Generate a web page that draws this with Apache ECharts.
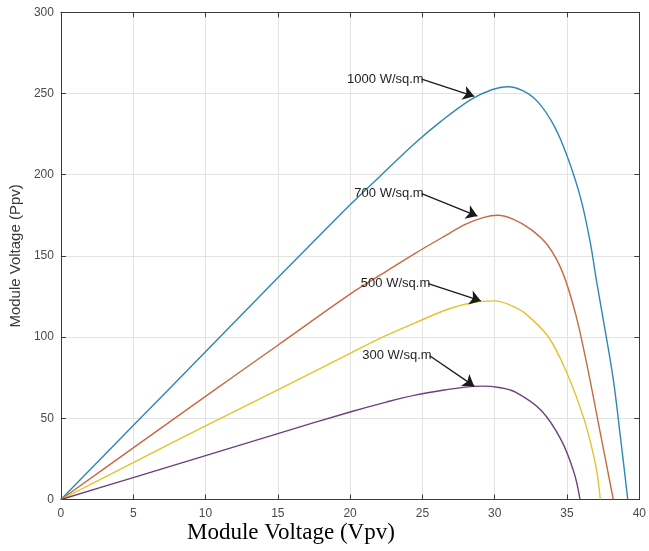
<!DOCTYPE html>
<html>
<head>
<meta charset="utf-8">
<script src="https://cdn.jsdelivr.net/npm/echarts@6/dist/echarts.min.js"></script>
<style>html,body{margin:0;padding:0;background:#fff}#c{width:649px;height:551px}</style>
</head>
<body>
<div id="c"></div>
<script>
// Data: [voltage (V), power (W)]
const curve1000 = [[0,0],[5,45.5],[10,91],[15,136.5],[20,181.5],[22,198.5],[24.5,219.5],[26.3,233],[28.4,246.5],[29.8,252.3],[30.9,254.2],[32,251.5],[33,244.7],[34.1,230.2],[35,211.6],[35.95,185.3],[36.6,158.6],[37.05,134],[37.6,106],[38.2,74],[38.7,38],[39.2,0]];
const curve700 = [[0,0],[5,31.8],[10,63.5],[15,95],[20,126.5],[22.5,140.5],[24.5,151.6],[26.5,162],[28,169.5],[29.2,173.6],[30.2,175],[31.3,172.5],[32.5,166.3],[33.7,156.1],[34.7,139.7],[35.6,114],[36.4,82],[37.3,41],[38.2,0]];
const curve500 = [[0,0],[5,22.7],[10,45.3],[15,67.5],[20,90],[22.5,101],[24.5,108.8],[26.8,117.3],[28.5,121.3],[30,122.3],[31,120],[32.1,114.6],[33.7,100.2],[35,77.7],[36.2,48.9],[37,20.2],[37.3,0]];
const curve300 = [[0,0],[5,13.5],[10,27],[15,40.6],[20,53.9],[22.5,60],[24.5,64.3],[26.8,67.8],[28,69.2],[29.1,69.8],[30.3,69],[31.4,66.3],[33.2,55],[34.6,36.6],[35.5,16.1],[35.9,0]];

const labels = ['1000 W/sq.m','700 W/sq.m','500 W/sq.m','300 W/sq.m'];
// annotation arrows in data coordinates: [start, tip]
const arrowStarts = [[24.95,258.8],[24.95,188.4],[25.4,133],[25.5,88.5]];
const arrowTips = [[28.58,248.3],[28.8,174.5],[29.04,122.3],[28.58,69.8]];

const xMin = 0, xMax = 40, xStep = 5;
const yMin = 0, yMax = 300, yStep = 50;

const colors = ['#2e88b3','#c8693f','#e3c32c','#6c3f7f'];
const curves = [curve1000, curve700, curve500, curve300];

const chart = echarts.init(document.getElementById('c'), null, {renderer:'canvas'});

const tickFont = {color:'#4a4a4a', fontSize:12, fontFamily:'Liberation Sans, Arial, sans-serif'};
const axisLineStyle = {color:'#3a3a3a', width:1};

const series = curves.map((d,i)=>({
  type:'line',
  data:d,
  smooth:0.35,
  showSymbol:false,
  lineStyle:{color:colors[i], width:1.4},
  itemStyle:{color:colors[i]},
  animation:false,
  silent:true,
  markLine:{
    silent:true,
    animation:false,
    symbol:['none','arrow'],
    symbolSize:11,
    lineStyle:{color:'#1a1a1a', width:1.3, type:'solid'},
    itemStyle:{color:'#1a1a1a'},
    label:{show:false},
    emphasis:{disabled:true},
    data:[[
      {coord:arrowStarts[i], symbol:'none'},
      {coord:arrowTips[i], symbol:'arrow', symbolSize:11, itemStyle:{color:'#1a1a1a'}}
    ]]
  },
  markPoint:{
    silent:true,
    animation:false,
    symbol:'circle',
    symbolSize:0,
    label:{show:true, position:'left', distance:-2, formatter:labels[i], color:'#1f1f1f', fontSize:13, fontFamily:'Liberation Sans, Arial, sans-serif'},
    data:[{coord:arrowStarts[i]}]
  }
}));

chart.setOption({
  backgroundColor:'#fff',
  animation:false,
  title:{
    text:'Module Voltage (Vpv)',
    left:187, top:521,
    padding:0,
    textStyle:{fontFamily:'Liberation Serif, Times New Roman, serif', fontSize:23, fontWeight:'normal', color:'#000'}
  },
  grid:{left:60.7, right:3, top:12.3, bottom:51.5, containLabel:false},
  xAxis:[{
    type:'value', min:xMin, max:xMax, interval:xStep, position:'bottom',
    axisLine:{show:true, onZero:false, lineStyle:axisLineStyle},
    axisTick:{show:true, inside:true, length:5, lineStyle:axisLineStyle},
    axisLabel:Object.assign({margin:8, showMaxLabel:true}, tickFont),
    splitLine:{show:true, lineStyle:{color:'#e3e3e3', width:1}}
  },{
    type:'value', min:xMin, max:xMax, interval:xStep, position:'top',
    axisLine:{show:true, onZero:false, lineStyle:axisLineStyle},
    axisTick:{show:true, inside:true, length:5, lineStyle:axisLineStyle},
    axisLabel:{show:false}, splitLine:{show:false}
  }],
  yAxis:[{
    type:'value', min:yMin, max:yMax, interval:yStep, position:'left',
    name:'Module Voltage (Ppv)', nameLocation:'middle', nameGap:33,
    nameTextStyle:{color:'#3a3a3a', fontSize:15, fontFamily:'Liberation Sans, Arial, sans-serif'},
    axisLine:{show:true, onZero:false, lineStyle:axisLineStyle},
    axisTick:{show:true, inside:true, length:5, lineStyle:axisLineStyle},
    axisLabel:Object.assign({margin:7}, tickFont),
    splitLine:{show:true, lineStyle:{color:'#e3e3e3', width:1}}
  },{
    type:'value', min:yMin, max:yMax, interval:yStep, position:'right',
    axisLine:{show:true, onZero:false, lineStyle:axisLineStyle},
    axisTick:{show:true, inside:true, length:5, lineStyle:axisLineStyle},
    axisLabel:{show:false}, splitLine:{show:false}
  }],
  series:series
});
</script>
</body>
</html>
